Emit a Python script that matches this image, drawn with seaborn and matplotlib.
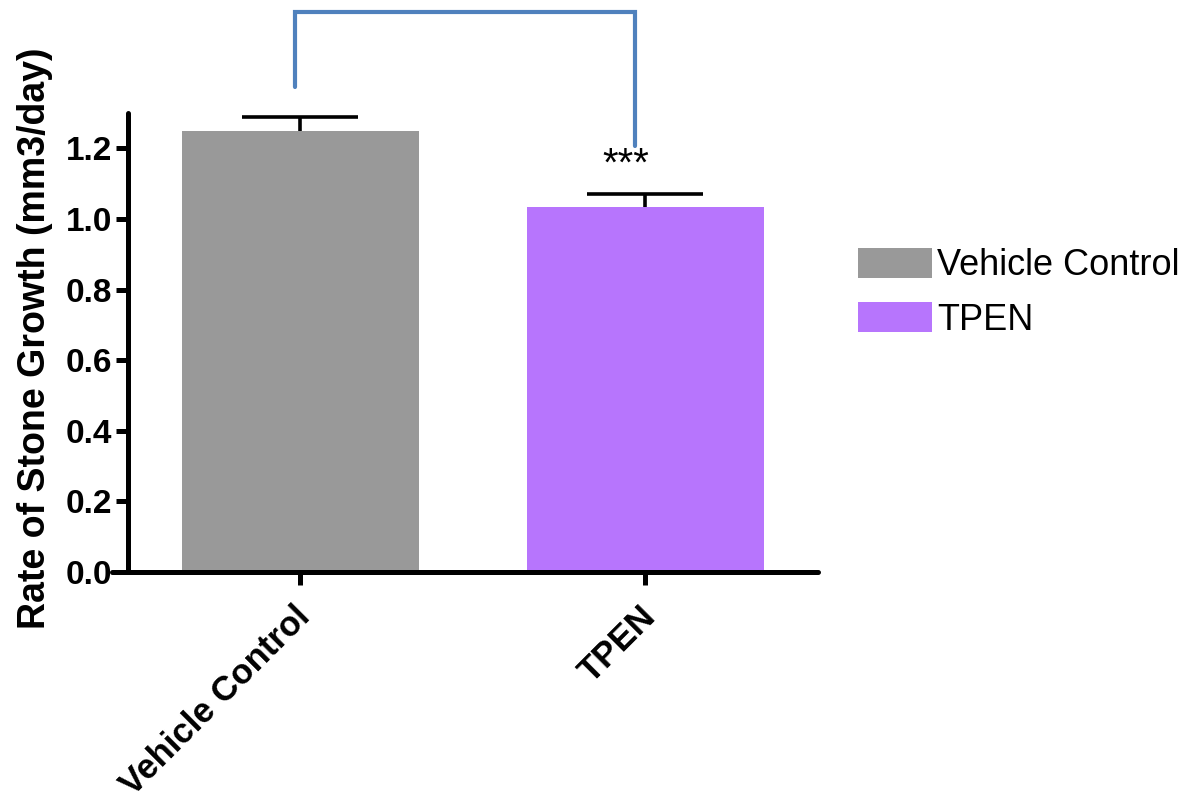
import matplotlib
matplotlib.use("Agg")
import matplotlib.pyplot as plt
import matplotlib.transforms as mtransforms
import seaborn as sns
import pandas as pd

# Group means and standard errors (mm3/day)
groups = ["Vehicle Control", "TPEN"]
means = [1.248, 1.035]
sems = [0.042, 0.037]
bar_colors = ["#999999", "#b775fd"]
y_ticks = [0.0, 0.2, 0.4, 0.6, 0.8, 1.0, 1.2]
sig_label = "***"

sns.set_style("ticks")
plt.rcParams["font.family"] = ["Liberation Sans", "DejaVu Sans"]
for key in ["text.color", "axes.labelcolor", "xtick.color", "ytick.color",
            "axes.edgecolor"]:
    plt.rcParams[key] = "black"

df = pd.DataFrame({"Group": groups, "Rate": means})

fig = plt.figure(figsize=(11.95, 8.01), dpi=100)
ax = fig.add_axes([0.0937, 0.2859, 0.5908, 0.5730])

sns.barplot(data=df, x="Group", y="Rate", hue="Group", palette=bar_colors,
            width=0.687, errorbar=None, legend=True, ax=ax, linewidth=0,
            saturation=1)

# One-sided (upper) SEM bars
xpos = list(range(len(groups)))
_, caps, _ = ax.errorbar(xpos, means, yerr=[[0] * len(sems), sems],
                         fmt="none", ecolor="black", elinewidth=2.6,
                         capsize=42, capthick=2.6, zorder=5)
caps[0].set_visible(False)

ax.set_xlim(-0.545, 1.5)
ax.set_ylim(0, 1.3)
ax.set_yticks(y_ticks)
ax.set_yticklabels([f"{v:.1f}" for v in y_ticks])

for side in ["top", "right"]:
    ax.spines[side].set_visible(False)
ax.spines["left"].set_position(("data", -0.5))
for side in ["left", "bottom"]:
    ax.spines[side].set_linewidth(3.6)
    ax.spines[side].set_capstyle("round")
    ax.spines[side].set_color("black")

ax.tick_params(axis="both", width=3.6, length=9, color="black")
ax.tick_params(axis="y", labelsize=24, pad=2)
ax.tick_params(axis="x", labelsize=25, pad=6)
for lab in ax.get_yticklabels():
    lab.set_fontweight("bold")
shift = mtransforms.ScaledTranslation(5 / 100, -19 / 100, fig.dpi_scale_trans)
for lab in ax.get_xticklabels():
    lab.set_fontweight("bold")
    lab.set_rotation(45)
    lab.set_ha("right")
    lab.set_va("center")
    lab.set_rotation_mode("anchor")
    lab.set_transform(lab.get_transform() + shift)

ax.set_xlabel("")
ax.set_ylabel("Rate of Stone Growth (mm3/day)", fontsize=27,
              fontweight="bold")
ax.yaxis.set_label_coords(-0.083, 0.51)

# Significance bracket between the two groups
left_x = xpos[0] - 0.015
right_x = xpos[1] - 0.03
ax.plot([left_x, left_x, right_x, right_x], [1.373, 1.586, 1.586, 1.206],
        color="#4f81bd", linewidth=3, clip_on=False, solid_joinstyle="miter",
        zorder=6)
ax.text(xpos[1] - 0.058, 1.122, sig_label, ha="center", va="baseline",
        fontsize=29, color="black")

sns.move_legend(ax, loc="upper left", bbox_to_anchor=(858 / 1195, 1 - 248 / 801),
                bbox_transform=fig.transFigure, frameon=False, title=None,
                fontsize=26, handlelength=2.05, handleheight=0.9,
                handletextpad=0.15, labelspacing=0.52, borderpad=0,
                borderaxespad=0)

fig.savefig("out.png", dpi=100)
